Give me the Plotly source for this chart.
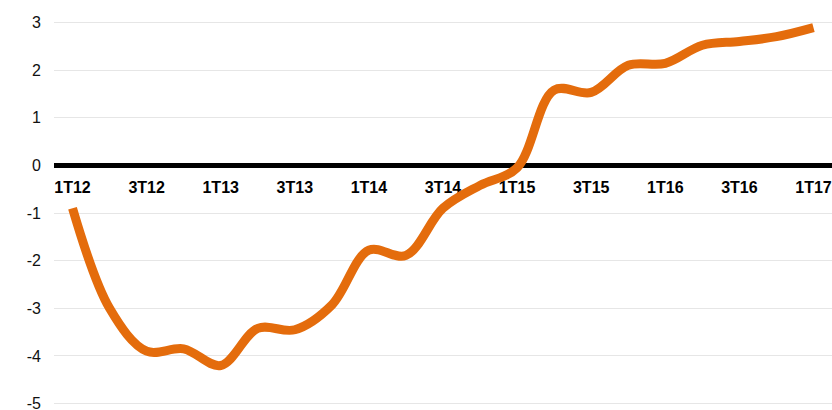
import plotly.graph_objects as go

# quarters 1T12 .. 1T17
quarters = ["1T12", "2T12", "3T12", "4T12",
            "1T13", "2T13", "3T13", "4T13",
            "1T14", "2T14", "3T14", "4T14",
            "1T15", "2T15", "3T15", "4T15",
            "1T16", "2T16", "3T16", "4T16",
            "1T17"]
values = [-0.90, -3.00, -3.90, -3.85,
          -4.20, -3.42, -3.45, -2.93,
          -1.78, -1.89, -0.90, -0.42,
          -0.05, 1.58, 1.53, 2.10,
          2.14, 2.52, 2.60, 2.70,
          2.89]
y_ticks = [-5, -4, -3, -2, -1, 0, 1, 2, 3]
y_text = ["-5", "-4", "-3", "-2", "-1", "0", "1", "2", "3"]
x_ticks = quarters[::2]

y_lo, y_hi = -5.05, 3.05

fig = go.Figure()
fig.add_trace(go.Scatter(
    x=quarters, y=values, mode="lines",
    line=dict(color="rgb(228,108,12)", width=9, shape="spline", smoothing=1.0),
    hoverinfo="x+y", showlegend=False,
))

fig.update_layout(
    width=832, height=410,
    margin=dict(l=54, r=0, t=20, b=4, autoexpand=False),
    paper_bgcolor="white", plot_bgcolor="white",
    font=dict(family="Liberation Sans, Arial, sans-serif", color="#111"),
    xaxis=dict(
        type="category", range=[-0.5, 20.5],
        tickmode="array", tickvals=x_ticks, ticktext=x_ticks,
        tickfont=dict(size=16, color="black", weight="bold"),
        showgrid=False, zeroline=False,
        showline=True, linecolor="black", linewidth=5,
        anchor="free", position=(0 - y_lo) / (y_hi - y_lo),
        ticks="", layer="below traces", automargin=False,
        ticklabelstandoff=5, ticklabeloverflow="allow",
    ),
    yaxis=dict(
        range=[y_lo, y_hi], tickmode="array", tickvals=y_ticks, ticktext=y_text,
        tickfont=dict(size=16, color="#111"),
        showgrid=True, gridcolor="#e6e6e6", gridwidth=1,
        zeroline=False, showline=False, ticks="",
        ticklabelstandoff=12, automargin=False, ticklabeloverflow="allow",
    ),
)

# page body has a default 8px margin; drop it so the chart sits at the corner
fig.write_html("out.html", config={"displayModeBar": False},
               post_script="document.body.style.margin='0';document.body.style.overflow='hidden';")
